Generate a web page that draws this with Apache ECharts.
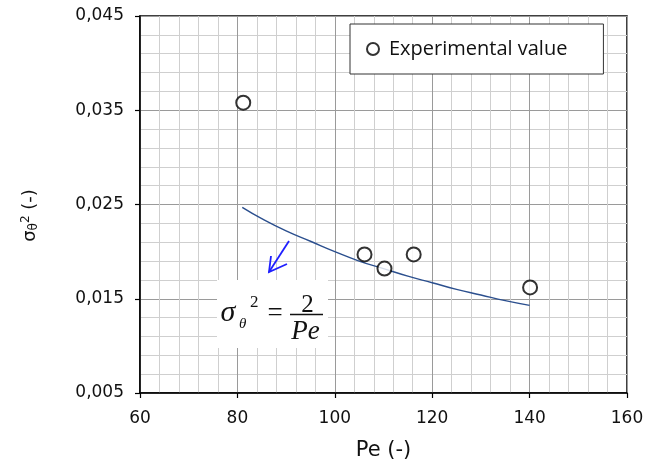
<!DOCTYPE html>
<html>
<head>
<meta charset="utf-8">
<script src="https://cdn.jsdelivr.net/npm/echarts@6/dist/echarts.min.js"></script>
<style>
html,body{margin:0;padding:0;background:#fff;}
#chart{width:658px;height:462px;}
</style>
</head>
<body>
<div id="chart"></div>
<script>
// Experimental points (Pe, sigma_theta^2)
var expPe = [81.2, 106.1, 110.2, 116.2, 140.1];
var expSigma = [0.0358, 0.0197, 0.0182, 0.0197, 0.0162];
// Model curve (Pe, sigma_theta^2)
var modelPe = [81, 85, 90, 95, 100, 105, 110, 115, 120, 125, 130, 135, 140];
var modelSigma = [0.0247, 0.0235, 0.0222, 0.0211, 0.0200, 0.0190, 0.0182, 0.0174, 0.0167, 0.0160, 0.0154, 0.0148, 0.0143];
// Axis ticks
var xTicks = [60, 80, 100, 120, 140, 160];
var yTicks = [0.005, 0.015, 0.025, 0.035, 0.045];
var seriesName = 'Experimental value';

function pairs(xs, ys){ return xs.map(function(x,i){ return [x, ys[i]]; }); }

var chart = echarts.init(document.getElementById('chart'), null, {renderer:'canvas'});
var serif = '"Liberation Serif", "Times New Roman", serif';
var option = {
  animation: false,
  backgroundColor: '#fff',
  grid: {left: 140, right: 31, top: 16, bottom: 69, show: true, borderColor: '#000', borderWidth: 1.5,
         backgroundColor: 'transparent', containLabel: false, outerBoundsMode: 'none'},
  legend: {
    data: [seriesName],
    left: 350, top: 24,
    orient: 'horizontal',
    padding: [15, 36, 15, 16],
    itemWidth: 12, itemHeight: 12,
    backgroundColor: '#fff',
    borderColor: '#333', borderWidth: 1,
    textStyle: {fontFamily: '"Open Sans"', fontSize: 20, color: '#111', padding: [0,0,0,5]}
  },
  xAxis: {
    type: 'value', min: xTicks[0], max: xTicks[xTicks.length-1], interval: 20,
    name: 'Pe (-)', nameLocation: 'middle', nameGap: 47,
    nameTextStyle: {fontFamily: '"DejaVu Sans"', fontSize: 21, color: '#111'},
    axisLine: {show: true, onZero: false, lineStyle: {color: '#000', width: 1.5}},
    axisTick: {show: true, length: 5, lineStyle: {color: '#000', width: 1.2}},
    axisLabel: {fontFamily: '"DejaVu Sans"', fontSize: 17, color: '#111', margin: 17},
    splitLine: {show: true, lineStyle: {color: '#9a9a9a', width: 1}},
    minorTick: {show: false, splitNumber: 5},
    minorSplitLine: {show: true, lineStyle: {color: '#cfcfcf', width: 1}}
  },
  yAxis: {
    type: 'value', min: yTicks[0], max: yTicks[yTicks.length-1], interval: 0.01,
    name: '{a|σ}{b|θ}{c|2}{a| (-)}', nameLocation: 'middle', nameGap: 100, nameRotate: 90,
    nameTextStyle: {
      fontFamily: '"DejaVu Sans"', fontSize: 18, color: '#111', padding: [0, 22, 0, 0],
      rich: {
        a: {fontFamily: '"DejaVu Sans"', fontSize: 18, color: '#111'},
        b: {fontFamily: '"DejaVu Sans"', fontSize: 12, color: '#111', verticalAlign: 'bottom', padding: [8,0,0,0]},
        c: {fontFamily: '"DejaVu Sans"', fontSize: 12, color: '#111', verticalAlign: 'top', padding: [0,0,8,0]}
      }
    },
    axisLine: {show: true, onZero: false, lineStyle: {color: '#000', width: 1.5}},
    axisTick: {show: true, length: 5, lineStyle: {color: '#000', width: 1.2}},
    axisLabel: {fontFamily: '"DejaVu Sans"', fontSize: 17, color: '#111', margin: 16,
      formatter: function(v){ return v.toFixed(3).replace('.', ','); }},
    splitLine: {show: true, lineStyle: {color: '#9a9a9a', width: 1}},
    minorTick: {show: false, splitNumber: 5},
    minorSplitLine: {show: true, lineStyle: {color: '#cfcfcf', width: 1}}
  },
  series: [
    {
      name: 'model', type: 'line', data: pairs(modelPe, modelSigma), smooth: true,
      showSymbol: false, symbol: 'none',
      lineStyle: {color: '#2b4f8e', width: 1.4}, z: 3
    },
    {
      name: seriesName, type: 'scatter', data: pairs(expPe, expSigma),
      symbol: 'circle', symbolSize: 14,
      itemStyle: {color: '#fff', borderColor: '#000', borderWidth: 2}, z: 5
    }
  ],
  graphic: [
    {type: 'rect', shape: {x: 217, y: 280, width: 111, height: 68}, style: {fill: '#fff'}, z: 10},
    {type: 'text', x: 220.5, y: 313, style: {text: 'σ', font: 'italic 30px ' + serif, fill: '#111', textVerticalAlign: 'middle', textAlign: 'left'}, z: 11},
    {type: 'text', x: 239, y: 324, style: {text: 'θ', font: 'italic 15px ' + serif, fill: '#111', textVerticalAlign: 'middle', textAlign: 'left'}, z: 11},
    {type: 'text', x: 250, y: 302.5, style: {text: '2', font: '17px ' + serif, fill: '#111', textVerticalAlign: 'middle', textAlign: 'left'}, z: 11},
    {type: 'text', x: 275, y: 314, style: {text: '=', font: '27px ' + serif, fill: '#111', textVerticalAlign: 'middle', textAlign: 'center'}, z: 11},
    {type: 'text', x: 307.5, y: 305, style: {text: '2', font: '25px ' + serif, fill: '#111', textVerticalAlign: 'middle', textAlign: 'center'}, z: 11},
    {type: 'line', shape: {x1: 290, y1: 314.5, x2: 323, y2: 314.5}, style: {stroke: '#111', lineWidth: 1.3}, z: 11},
    {type: 'text', x: 305.5, y: 332, style: {text: 'Pe', font: 'italic 27px ' + serif, fill: '#111', textVerticalAlign: 'middle', textAlign: 'center'}, z: 11},
    {type: 'line', shape: {x1: 289, y1: 241, x2: 269, y2: 272}, style: {stroke: '#1f1fff', lineWidth: 1.8}, z: 11},
    {type: 'polyline', shape: {points: [[271, 256], [269, 272], [287, 264]]}, style: {stroke: '#1f1fff', lineWidth: 1.8, fill: null}, z: 11}
  ]
};
chart.setOption(option);
</script>
</body>
</html>
